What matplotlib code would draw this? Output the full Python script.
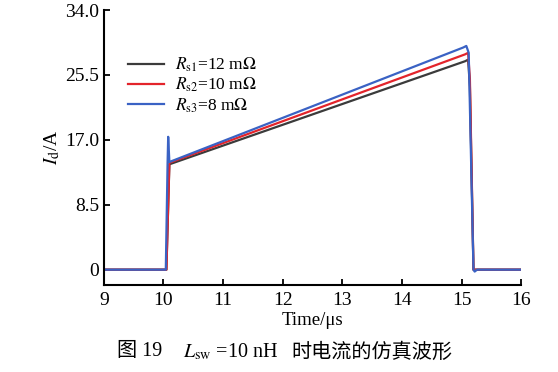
import matplotlib
matplotlib.use("Agg")
import matplotlib.pyplot as plt

plt.rcParams['font.family'] = ['Liberation Serif', 'Noto Sans CJK SC']
plt.rcParams['mathtext.fontset'] = 'stix'

# time in us, current in A
t_black = [9.0, 10.05, 10.10, 15.06, 15.11, 15.14, 15.20, 16.0]
i_black = [0.0, 0.0, 13.8, 27.3, 27.5, 24.0, 0.0, 0.0]

t_red = [9.0, 10.05, 10.10, 15.06, 15.11, 15.14, 15.20, 16.0]
i_red = [0.0, 0.0, 14.0, 28.2, 28.4, 25.0, 0.0, 0.0]

t_blue = [9.0, 10.04, 10.07, 10.08, 10.10, 15.03, 15.08, 15.12, 15.20, 15.22, 15.26, 16.0]
i_blue = [0.0, 0.0, 14.0, 17.4, 14.1, 29.1, 29.3, 28.4, 0.0, -0.25, 0.0, 0.0]

labels = [r'$R_{\mathrm{s1}}$=12 m$\Omega$',
          r'$R_{\mathrm{s2}}$=10 m$\Omega$',
          r'$R_{\mathrm{s3}}$=8 m$\Omega$']
xticks = [9, 10, 11, 12, 13, 14, 15, 16]
yticks = [0, 8.5, 17.0, 25.5, 34.0]
ytick_labels = ['0', '8.5', '17.0', '25.5', '34.0']

fig = plt.figure(figsize=(5.58, 3.72), dpi=100)
ax = fig.add_axes([0.186, 0.234, 0.748, 0.739])

ax.plot(t_black, i_black, color='#3b3b3b', lw=1.6, label=labels[0])
ax.plot(t_red, i_red, color='#e3242b', lw=1.6, label=labels[1])
ax.plot(t_blue, i_blue, color='#3a62c4', lw=1.6, label=labels[2])

ax.set_xlim(9, 16)
ax.set_ylim(-2, 34)
ax.set_xticks(xticks)
ax.set_yticks(yticks)
ax.set_yticklabels(ytick_labels)
ax.spines['top'].set_visible(False)
ax.spines['right'].set_visible(False)
ax.spines['left'].set_bounds(-2, 34)
for s in ['left', 'bottom']:
    ax.spines[s].set_linewidth(1.5)
ax.tick_params(direction='in', length=4, width=1.3, labelsize=14)
ax.tick_params(axis='x', pad=5)

ax.set_xlabel('Time/μs', fontsize=13.5, labelpad=2)
ax.set_ylabel(r'$I_{\mathrm{d}}$/A', fontsize=14, labelpad=2)

ax.legend(loc='upper left', bbox_to_anchor=(0.02, 0.89), frameon=False,
          fontsize=12.5, handlelength=2.1, labelspacing=0.1, handletextpad=0.6)

# caption, in three pieces so the CJK glyphs get a font that has them
cap_y = 1 - 352 / 372
fig.text(117 / 558, cap_y, '图 19', ha='left', va='center', fontsize=14.5)
fig.text(183 / 558, cap_y, r'$L_{\mathrm{sw}}$ =10 nH', ha='left', va='center', fontsize=14.5)
fig.text(291 / 558, cap_y, '时电流的仿真波形', ha='left', va='center', fontsize=14.5,
         family=['Noto Sans CJK SC'])

fig.savefig('out.png', dpi=100)
